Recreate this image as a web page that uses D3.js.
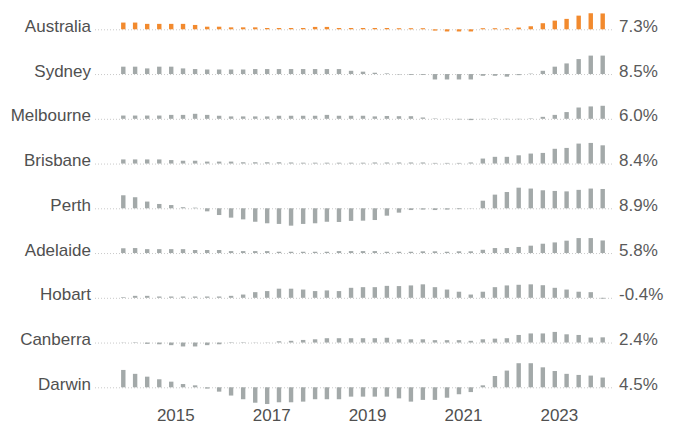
<!DOCTYPE html>
<html>
<head>
<meta charset="utf-8">
<script src="https://cdn.jsdelivr.net/npm/d3@7"></script>
<style>
  html, body { margin: 0; padding: 0; background: #fff; }
  svg { display: block; }
  text { font-family: "Liberation Sans", Arial, sans-serif; }
</style>
</head>
<body>
<svg id="chart" width="674" height="425"></svg>
<script>
// ---- data ----
const cities = ["Australia", "Sydney", "Melbourne", "Brisbane", "Perth", "Adelaide", "Hobart", "Canberra", "Darwin"];
const latestLabels = ["7.3%", "8.5%", "6.0%", "8.4%", "8.9%", "5.8%", "-0.4%", "2.4%", "4.5%"];
const tickYears = [2015, 2017, 2019, 2021, 2023];
// quarterly annual change, Dec 2013 .. Dec 2023 (41 quarters)
const australia = [3.1,3.1,2.5,2.5,2.5,2.5,2.0,1.2,1.2,0.9,0.9,0.9,0.6,0.6,0.6,0.6,1.1,1.1,0.6,0.6,0.6,0.6,0.6,0.5,0.5,0.5,-0.6,-1.0,-1.0,-1.0,0.5,0.5,0.5,0.8,1.4,2.8,4.0,4.8,6.3,7.4,7.3];
const sydney = [3.4,3.4,2.6,3.4,3.4,2.6,2.3,2.1,2.1,2.1,2.1,2.3,2.3,2.3,2.3,2.3,2.3,2.3,2.3,1.5,1.1,0.6,0.3,-0.2,-0.4,-0.4,-2.5,-2.5,-2.5,-2.5,-0.8,-0.8,-1.2,-0.5,0.2,1.5,3.4,4.9,6.9,8.5,8.5];
const melbourne = [1.5,1.5,1.5,1.5,1.8,1.8,2.3,1.8,1.4,1.1,1.1,1.1,1.1,1.4,1.4,1.4,1.4,1.8,1.4,1.4,1.4,1.1,1.3,1.2,1.2,0.6,0.2,0.1,-0.3,-0.6,-0.2,0.2,-0.2,-0.2,0.2,0.9,1.8,3.1,5.2,5.7,6.0];
const brisbane = [1.9,1.9,1.9,1.9,1.6,1.3,1.3,0.9,0.9,0.9,0.6,0.6,0.6,0.6,0.5,0.4,0.4,0.4,0.4,0.4,0.4,0.5,0.5,0.5,0.5,0.5,0.3,0.3,0.3,0.5,2.3,3.1,3.1,3.8,4.6,4.9,6.8,7.2,9.2,9.5,8.4];
const perth = [6.0,5.1,3.1,2.0,1.5,0.5,0.3,-1.4,-3.1,-4.3,-5.1,-6.2,-6.9,-7.2,-8.0,-7.2,-6.9,-6.2,-6.3,-5.8,-5.7,-5.4,-3.4,-2.0,-0.8,-0.6,-0.8,-0.6,-0.4,0.1,3.5,6.3,7.5,9.5,9.1,8.3,8.0,7.8,8.5,9.1,8.9];
const adelaide = [2.2,2.3,1.8,1.8,1.8,1.8,1.4,1.4,1.4,0.9,0.9,0.9,0.9,0.6,0.6,0.6,0.6,0.6,0.9,0.9,0.9,0.9,0.6,0.6,0.6,0.8,0.8,0.6,0.8,0.8,1.5,2.3,2.3,2.8,3.4,4.3,4.9,5.7,6.9,6.9,5.8];
const hobart = [0.3,0.9,0.9,0.6,0.6,0.6,0.6,0.6,0.6,0.9,1.5,2.6,3.1,4.2,4.2,3.8,3.1,3.4,3.1,4.6,4.9,4.9,5.5,5.4,5.7,6.2,4.9,3.8,2.8,1.5,2.8,4.9,5.7,6.0,6.2,5.8,4.6,3.8,2.8,2.6,-0.4];
const canberra = [0.1,-0.2,-0.6,-0.8,-1.2,-1.8,-1.8,-1.2,-0.8,-0.2,-0.2,-0.1,0.1,0.6,0.8,1.2,1.5,2.0,2.0,2.0,2.0,2.0,2.2,1.5,1.5,1.5,1.1,1.1,1.1,0.8,1.5,1.8,2.0,3.5,4.2,4.2,4.9,3.8,3.5,2.3,2.4];
const darwin = [8.0,6.2,4.9,3.7,2.6,1.5,0.9,-0.6,-2.0,-3.8,-5.5,-7.1,-7.7,-6.9,-6.9,-6.6,-5.5,-5.5,-5.5,-4.3,-4.3,-4.3,-4.3,-5.1,-6.6,-5.8,-5.8,-4.8,-3.2,-2.2,0.9,5.2,7.7,11.1,11.1,9.2,7.5,6.2,5.7,5.4,4.5];
const seriesList = [australia, sydney, melbourne, brisbane, perth, adelaide, hobart, canberra, darwin];

// quarter dates: Dec 2013 .. Dec 2023
const quarters = d3.timeMonth.range(new Date(2013, 11, 1), new Date(2024, 0, 1), 3);

// ---- layout ----
const svg = d3.select("#chart");
const x = d3.scaleTime()
  .domain([new Date(2013, 11, 1), new Date(2023, 11, 1)])
  .range([123.3, 602.7]);
const row = d3.scalePoint().domain(cities).range([29.3, 387.3]);
const y = d3.scaleLinear().domain([0, 10]).range([0, -21.7]);
const barW = 4.4;

const rows = svg.selectAll("g.row")
  .data(cities.map((c, i) => ({ city: c, values: seriesList[i], label: latestLabels[i], i })))
  .join("g")
  .attr("class", "row")
  .attr("transform", d => `translate(0,${row(d.city)})`);

rows.append("line")
  .attr("x1", 95).attr("x2", 613)
  .attr("y1", 0.5).attr("y2", 0.5)
  .attr("stroke", "#c9c9c9")
  .attr("stroke-width", 1)
  .attr("stroke-dasharray", "1,2");

rows.selectAll("rect")
  .data(d => d.values.map((v, k) => ({ v, date: quarters[k], first: d.i === 0 })))
  .join("rect")
  .attr("x", d => x(d.date) - barW / 2)
  .attr("width", barW)
  .attr("y", d => Math.min(y(d.v), 0))
  .attr("height", d => Math.abs(y(d.v)))
  .attr("fill", d => d.first ? "#f28a2e" : "#a3a9a9");

rows.append("text")
  .attr("x", 91)
  .attr("y", 2.5)
  .attr("text-anchor", "end")
  .attr("font-size", 17)
  .attr("fill", "#505050")
  .text(d => d.city);

rows.append("text")
  .attr("x", 619)
  .attr("y", 2.5)
  .attr("font-size", 17)
  .attr("fill", "#5a5a5a")
  .text(d => d.label);

const xAxis = d3.axisBottom(x)
  .tickValues(tickYears.map(yr => new Date(yr, 0, 1)))
  .tickFormat(d3.timeFormat("%Y"))
  .tickSize(0)
  .tickPadding(0);

const ax = svg.append("g")
  .attr("transform", "translate(0,421)")
  .call(xAxis);
ax.select(".domain").remove();
ax.selectAll("text")
  .attr("font-family", "Liberation Sans, Arial, sans-serif")
  .attr("font-size", 17)
  .attr("fill", "#505050")
  .attr("y", 0)
  .attr("dy", 0);
</script>
</body>
</html>
